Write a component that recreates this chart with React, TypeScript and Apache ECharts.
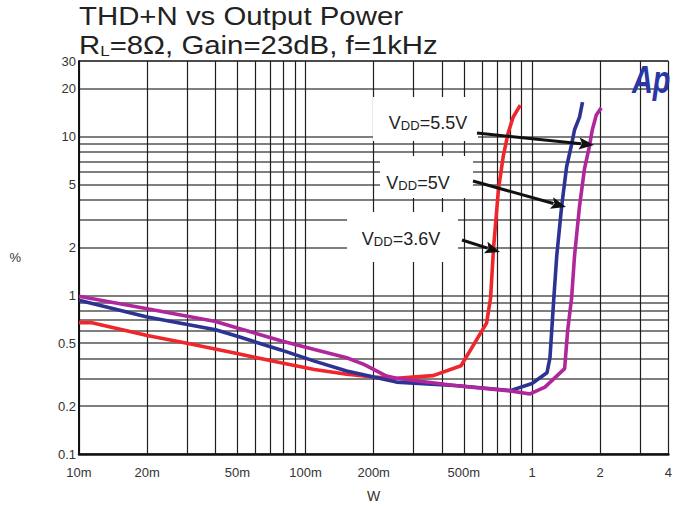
import React, { useEffect, useRef } from "react";
import * as echarts from "echarts";

const FONT = '"Liberation Sans", Arial, Helvetica, sans-serif';

// Output power (W) vs THD+N (%) for each supply voltage
const power36 = [0.01, 0.0114, 0.02, 0.0296, 0.0505, 0.0778, 0.1095, 0.152, 0.2, 0.252, 0.366, 0.486, 0.63, 0.656, 0.676, 0.711, 0.746, 0.785, 0.826, 0.888];
const thd36 = [0.673, 0.673, 0.558, 0.501, 0.428, 0.376, 0.341, 0.318, 0.306, 0.3, 0.312, 0.36, 0.668, 0.958, 1.97, 4.66, 7.5, 10.6, 13.3, 15.8];

const power50 = [0.01, 0.02, 0.0401, 0.05, 0.0778, 0.1095, 0.152, 0.2, 0.252, 0.475, 0.802, 1.0, 1.164, 1.2, 1.248, 1.286, 1.352, 1.422, 1.495, 1.541, 1.621, 1.671];
const thd50 = [0.931, 0.731, 0.607, 0.552, 0.453, 0.385, 0.334, 0.306, 0.284, 0.269, 0.251, 0.278, 0.325, 0.404, 0.958, 1.78, 3.65, 6.49, 8.91, 11.06, 13.3, 16.5];

const power55 = [0.01, 0.02, 0.0401, 0.05, 0.0778, 0.1095, 0.152, 0.181, 0.228, 0.252, 0.475, 0.802, 0.98, 1.14, 1.393, 1.436, 1.495, 1.541, 1.621, 1.703, 1.791, 1.846, 1.922, 2.022];
const thd55 = [0.986, 0.822, 0.685, 0.622, 0.518, 0.455, 0.404, 0.367, 0.31, 0.3, 0.268, 0.25, 0.239, 0.264, 0.345, 0.596, 0.958, 1.78, 3.65, 6.22, 8.66, 11.06, 13.7, 15.2];

// Grid line positions (1-2-3...9 per decade) and labelled ticks
const xGridValues = [0.01, 0.02, 0.03, 0.04, 0.05, 0.06, 0.07, 0.08, 0.09, 0.1, 0.2, 0.3, 0.4, 0.5, 0.6, 0.7, 0.8, 0.9, 1, 2, 3, 4];
const xLabelValues = [0.01, 0.02, 0.05, 0.1, 0.2, 0.5, 1, 2, 4];
const xLabelTexts = ["10m", "20m", "50m", "100m", "200m", "500m", "1", "2", "4"];

const yGridValues = [0.1, 0.2, 0.3, 0.4, 0.5, 0.6, 0.7, 0.8, 0.9, 1, 2, 3, 4, 5, 6, 7, 8, 9, 10, 20, 30];
const yLabelValues = [0.1, 0.2, 0.5, 1, 2, 5, 10, 20, 30];
const yLabelTexts = ["0.1", "0.2", "0.5", "1", "2", "5", "10", "20", "30"];

const seriesNames = ["VDD=3.6V", "VDD=5V", "VDD=5.5V"];
const seriesColors = ["#ef262c", "#2c3393", "#b0279c"];

function lookupLabel(values: number[], texts: string[], v: number): string {
  for (let i = 0; i < values.length; i++) {
    if (Math.abs(Math.log10(values[i]) - Math.log10(v)) < 1e-6) return texts[i];
  }
  return "";
}

function zip(xs: number[], ys: number[]) {
  return xs.map((x, i) => [x, ys[i]]);
}

// Callout arrow: shaft plus filled head
function arrow(x1: number, y1: number, x2: number, y2: number) {
  const len = Math.hypot(x2 - x1, y2 - y1);
  const ux = (x2 - x1) / len;
  const uy = (y2 - y1) / len;
  const head = 15;
  const half = 6;
  const bx = x2 - ux * head;
  const by = y2 - uy * head;
  return [
    {
      type: "line",
      z: 100,
      shape: { x1, y1, x2: bx + ux * 2, y2: by + uy * 2 },
      style: { stroke: "#111", lineWidth: 3 },
    },
    {
      type: "polygon",
      z: 100,
      shape: {
        points: [
          [x2, y2],
          [bx - uy * half, by + ux * half],
          [bx + ux * 3, by + uy * 3],
          [bx + uy * half, by - ux * half],
        ],
      },
      style: { fill: "#111" },
    },
  ];
}

function callout(cx: number, cy: number, rest: string) {
  return {
    type: "text",
    z: 101,
    x: cx,
    y: cy,
    style: {
      text: `{v|V}{s|DD}{v|${rest}}`,
      align: "center",
      verticalAlign: "middle",
      fill: "#222",
      rich: {
        v: { fontFamily: FONT, fontSize: 18, fill: "#222", verticalAlign: "bottom", lineHeight: 20 },
        s: { fontFamily: FONT, fontSize: 13, fill: "#222", verticalAlign: "bottom", lineHeight: 20 },
      },
    },
  };
}

function whiteBox(x: number, y: number, width: number, height: number) {
  return {
    type: "rect",
    z: 99,
    shape: { x, y, width, height },
    style: { fill: "#fff" },
  };
}

export default function App() {
  const ref = useRef<HTMLDivElement>(null);

  useEffect(() => {
    if (!ref.current) return;
    const chart = echarts.init(ref.current, null, { renderer: "svg" });

    const yLineColors = yGridValues.map((v) => (v === 30 ? "#111" : "#555"));

    chart.setOption({
      animation: false,
      backgroundColor: "#fff",
      grid: { left: 79, top: 61, width: 594, height: 396, containLabel: false },
      xAxis: {
        type: "log",
        logBase: 10,
        min: 0.01,
        max: 4,
        name: "W",
        nameLocation: "middle",
        nameGap: 35,
        nameTextStyle: { fontFamily: FONT, fontSize: 14, color: "#333" },
        axisLine: { show: true, onZero: false, lineStyle: { color: "#111", width: 2.5 } },
        axisTick: { show: false, customValues: xGridValues },
        axisLabel: {
          customValues: xLabelValues,
          showMinLabel: true,
          showMaxLabel: true,
          margin: 12,
          fontFamily: FONT,
          fontSize: 13,
          color: "#333",
          formatter: (v: number) => lookupLabel(xLabelValues, xLabelTexts, v),
        },
        splitLine: { show: true, lineStyle: { color: "#1e1e1e", width: 1.2 } },
      },
      yAxis: {
        type: "log",
        logBase: 10,
        min: 0.1,
        max: 30,
        name: "%",
        nameLocation: "middle",
        nameRotate: 0,
        nameGap: 58,
        nameTextStyle: { fontFamily: FONT, fontSize: 13, color: "#333" },
        axisLine: { show: true, onZero: false, lineStyle: { color: "#111", width: 2 } },
        axisTick: { show: false, customValues: yGridValues },
        axisLabel: {
          customValues: yLabelValues,
          showMinLabel: true,
          showMaxLabel: true,
          margin: 3,
          fontFamily: FONT,
          fontSize: 13,
          color: "#333",
          formatter: (v: number) => lookupLabel(yLabelValues, yLabelTexts, v),
        },
        splitLine: { show: true, lineStyle: { color: yLineColors, width: 1.6 } },
      },
      series: [
        { data: zip(power36, thd36) },
        { data: zip(power50, thd50) },
        { data: zip(power55, thd55) },
      ].map((s, i) => ({
        type: "line",
        name: seriesNames[i],
        data: s.data,
        showSymbol: false,
        smooth: false,
        z: 10 + i,
        lineStyle: { color: seriesColors[i], width: 3.6 },
        itemStyle: { color: seriesColors[i] },
      })),
      graphic: [
        // Two-line heading
        {
          type: "text",
          z: 100,
          x: 79,
          y: 16,
          scaleX: 1.13,
          style: {
            text: "THD+N vs Output Power",
            fontFamily: FONT,
            fontSize: 26,
            fill: "#222",
            align: "left",
            verticalAlign: "middle",
          },
        },
        {
          type: "text",
          z: 100,
          x: 79,
          y: 44,
          scaleX: 1.13,
          style: {
            text: "{a|R}{s|L}{a|=8Ω, Gain=23dB, f=1kHz}",
            fill: "#222",
            align: "left",
            verticalAlign: "middle",
            rich: {
              a: { fontFamily: FONT, fontSize: 26, fill: "#222", verticalAlign: "bottom", lineHeight: 28 },
              s: { fontFamily: FONT, fontSize: 15, fill: "#222", verticalAlign: "bottom", lineHeight: 28 },
            },
          },
        },
        whiteBox(373, 97, 105, 44),
        whiteBox(380, 156, 93, 42),
        whiteBox(347, 212, 111, 50),
        callout(428, 122, "=5.5V"),
        callout(418, 182, "=5V"),
        callout(401, 238, "=3.6V"),
        ...arrow(477, 133, 594, 145),
        ...arrow(473, 181, 566, 207),
        ...arrow(462, 240, 500, 252),
        {
          type: "text",
          z: 100,
          x: 632,
          y: 60,
          scaleX: 0.76,
          style: {
            text: "Ap",
            fontFamily: FONT,
            fontSize: 38,
            fontWeight: 900,
            fontStyle: "italic",
            fill: "#2a36a6",
            align: "left",
            verticalAlign: "top",
          },
        },
      ],
    });

    return () => chart.dispose();
  }, []);

  return (
    <div
      ref={ref}
      style={{ position: "fixed", left: 0, top: 0, width: 675, height: 508, background: "#fff" }}
    />
  );
}
